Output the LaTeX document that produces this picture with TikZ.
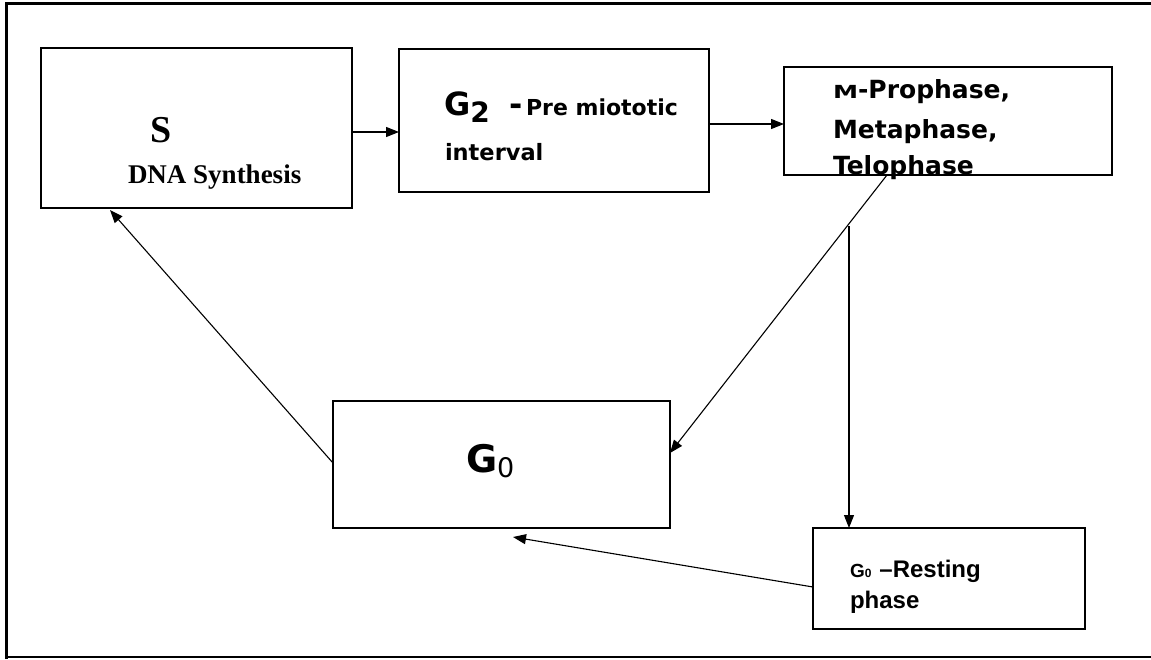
\documentclass[tikz,border=0pt]{standalone}
\usepackage{fontspec}
\usetikzlibrary{arrows.meta}
\newfontfamily\tnrfont{Liberation Serif}
\newfontfamily\dvsfont{DejaVu Sans}
\newfontfamily\arlfont{Liberation Sans}
\newcommand{\fsz}[1]{\fontsize{#1}{#1}\selectfont}
\begin{document}
\begin{tikzpicture}[x=1pt,y=-1pt,
  box/.style={draw, line width=1.3pt, inner sep=0pt, outer sep=0pt},
  lbl/.style={anchor=base west, inner sep=0pt, outer sep=0pt},
  conn/.style={line width=1.1pt, -{Triangle[length=13pt,width=10pt]}}]
\useasboundingbox (0,0) rectangle (1151,659);
% frame
\draw[line width=3pt] (6.5,659) -- (6.5,3.5) -- (1151,3.5);
\draw[line width=2pt] (5,657) -- (1151,657);
% boxes
\node[box, minimum width=311pt, minimum height=160pt] (S) at (196.5,128) {};
\node[box, minimum width=310pt, minimum height=143pt] (G2) at (554,120.5) {};
\node[box, minimum width=328pt, minimum height=108pt] (M) at (948,121) {};
\node[box, minimum width=337pt, minimum height=127pt] (G0) at (501.5,464.5) {};
\node[box, minimum width=272pt, minimum height=101pt] (R) at (949,578.5) {};
% texts
\node[lbl] (tS) at (150,142) {\tnrfont\bfseries\fsz{38}S};
\node[lbl] (tDNA) at (128,183) {\tnrfont\bfseries\fsz{27}DNA Synthesis};
\node[lbl] (tG2) at (444,115) {\dvsfont\bfseries\fsz{32}G\raisebox{-7pt}{\fsz{28}2}\hspace{20pt}-\hspace{3pt}\fsz{22}Pre miototic};
\node[lbl] (tint) at (445,160) {\dvsfont\bfseries\fsz{22.5}interval};
\node[lbl] (tM1) at (833,98) {\dvsfont\bfseries\fsz{25}\scalebox{1.4}[1]{\fsz{18}M}-Prophase,};
\node[lbl] (tM2) at (833,138) {\dvsfont\bfseries\fsz{25}Metaphase,};
\node[lbl] (tM3) at (833,174) {\dvsfont\bfseries\fsz{25}Telophase};
\node[lbl] (tG0) at (466,472) {\dvsfont\fsz{38}\textbf{G}\raisebox{-5pt}{\fsz{27}0}};
\node[lbl] (tR1) at (850,577) {\arlfont\bfseries\fsz{19}G\fsz{12}0\hspace{8pt}\fsz{24}–Resting};
\node[lbl] (tR2) at (850,608) {\arlfont\bfseries\fsz{24}phase};
% connectors
\coordinate (j) at (849,226);
\coordinate (g0tip) at ([xshift=11.5pt,yshift=-9pt]G0.south);
\draw[conn] ([yshift=-4pt]S.east) -- ([yshift=-11.5pt]G2.west);
\draw[conn] ([yshift=-3.5pt]G2.east) -- ([yshift=-3pt]M.west);
\draw[conn] ([xshift=-61pt]M.south) -- ([yshift=11.5pt]G0.east);
\draw[conn] (j) -- ([xshift=-100pt]R.north);
\draw[conn] ([yshift=-8.5pt]R.west) -- (g0tip);
\draw[conn] ([yshift=1.5pt]G0.west) -- ([xshift=-86.5pt,yshift=-2pt]S.south);
\end{tikzpicture}
\end{document}
